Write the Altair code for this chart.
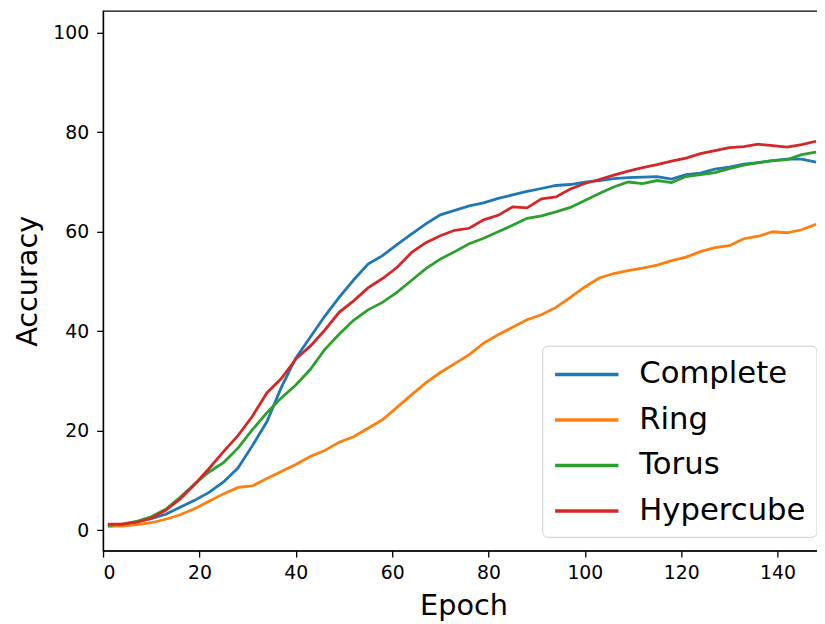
import altair as alt
import pandas as pd

epochs = [1, 4, 7, 10, 13, 16, 19, 22, 25, 28, 31, 34, 37, 40, 43, 46, 49, 52, 55, 58,
          61, 64, 67, 70, 73, 76, 79, 82, 85, 88, 91, 94, 97, 100, 103, 106, 109, 112, 115, 118,
          121, 124, 127, 130, 133, 136, 139, 142, 145, 148]

complete = [0.8, 1.0, 1.7, 2.3, 3.2, 4.6, 6.0, 7.6, 9.7, 12.5, 17.0, 21.8, 28.7, 34.6, 38.8, 43.0, 46.8, 50.3, 53.5, 55.2,
            57.4, 59.5, 61.6, 63.4, 64.3, 65.2, 65.8, 66.7, 67.4, 68.1, 68.7, 69.3, 69.5, 70.0, 70.3, 70.7, 70.9, 71.0, 71.1, 70.6,
            71.5, 71.8, 72.6, 73.0, 73.6, 73.9, 74.3, 74.6, 74.6, 74.0]

ring = [0.8, 0.8, 1.1, 1.5, 2.2, 3.1, 4.3, 5.8, 7.3, 8.6, 8.9, 10.4, 11.8, 13.2, 14.8, 16.0, 17.7, 18.8, 20.5, 22.2,
        24.7, 27.2, 29.6, 31.7, 33.5, 35.3, 37.6, 39.3, 40.8, 42.3, 43.3, 44.8, 46.8, 48.9, 50.7, 51.6, 52.2, 52.7, 53.3, 54.2,
        54.9, 56.0, 56.8, 57.2, 58.6, 59.1, 60.0, 59.8, 60.4, 61.5]

torus = [0.9, 1.2, 1.8, 2.7, 4.2, 6.6, 9.3, 11.7, 13.6, 16.5, 20.2, 23.6, 26.6, 29.2, 32.3, 36.3, 39.4, 42.2, 44.3, 45.8,
         47.8, 50.2, 52.6, 54.5, 56.0, 57.6, 58.7, 60.0, 61.3, 62.7, 63.2, 64.0, 64.9, 66.3, 67.7, 69.0, 70.0, 69.7, 70.3, 69.9,
         71.1, 71.5, 71.9, 72.7, 73.4, 73.9, 74.3, 74.5, 75.5, 76.0]

hypercube = [1.2, 1.2, 1.6, 2.4, 4.0, 6.3, 9.2, 12.4, 15.8, 19.0, 22.9, 27.6, 30.5, 34.4, 37.0, 40.2, 43.8, 46.1, 48.7, 50.6,
             52.8, 55.8, 57.8, 59.2, 60.3, 60.7, 62.4, 63.3, 65.0, 64.8, 66.6, 67.0, 68.6, 69.7, 70.5, 71.4, 72.2, 72.9, 73.5, 74.2,
             74.8, 75.7, 76.3, 76.9, 77.1, 77.6, 77.3, 77.0, 77.5, 78.2]

series_names = ["Complete", "Ring", "Torus", "Hypercube"]
series_colors = ["#1f77b4", "#ff7f0e", "#2ca02c", "#d62728"]
x_ticks = [0, 20, 40, 60, 80, 100, 120, 140]
y_ticks = [0, 20, 40, 60, 80, 100]

rows = []
for name, vals in zip(series_names, [complete, ring, torus, hypercube]):
    for e, v in zip(epochs, vals):
        rows.append({"Epoch": e, "Accuracy": v, "Topology": name})
df = pd.DataFrame(rows)

FONT = "DejaVu Sans"

chart = alt.Chart(df).mark_line(strokeWidth=2.8, clip=True).encode(
    x=alt.X("Epoch:Q",
            scale=alt.Scale(domain=[0, 148.6], nice=False, zero=False),
            axis=alt.Axis(values=x_ticks, title="Epoch", grid=False,
                          titleX=364, titleY=64, titleBaseline="alphabetic")),
    y=alt.Y("Accuracy:Q",
            scale=alt.Scale(domain=[-4.12, 104.38], nice=False, zero=False),
            axis=alt.Axis(values=y_ticks, title="Accuracy", grid=False,
                          titleX=-67, titleBaseline="alphabetic")),
    color=alt.Color("Topology:N",
                    scale=alt.Scale(domain=series_names, range=series_colors),
                    sort=series_names,
                    legend=alt.Legend(title=None, orient="none", legendX=443.5, legendY=338,
                                      symbolType="M-1,0L3,0", symbolSize=1024, symbolStrokeWidth=3.5,
                                      labelFontSize=31, labelFont=FONT, labelColor="black",
                                      labelLimit=400, labelOffset=51,
                                      rowPadding=13, padding=11,
                                      strokeColor="#cccccc", fillColor="white",
                                      cornerRadius=5)),
    detail="Topology:N",
).properties(
    width=723,
    height=545,
    autosize=alt.AutoSizeParams(type="none"),
    padding={"left": 96, "top": 0, "right": -2, "bottom": 71},
).configure_view(
    stroke="black", strokeWidth=1.3
).configure_axis(
    domainColor="black", domainWidth=1.3, tickColor="black", tickWidth=1.3, tickSize=6.5,
    labelFont=FONT, labelFontSize=19, labelColor="black", labelPadding=7,
    titleFont=FONT, titleFontSize=29, titleColor="black", titleFontWeight="normal"
).configure_axisY(labelPadding=8)

chart.save("out.html", embed_options={"renderer": "svg", "actions": False})
